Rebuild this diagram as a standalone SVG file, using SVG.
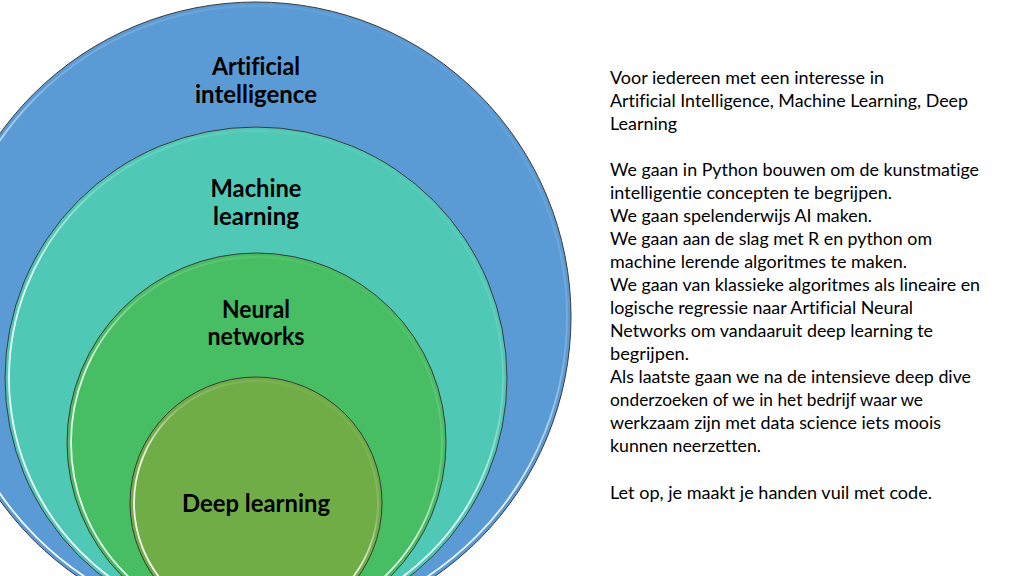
<svg xmlns="http://www.w3.org/2000/svg" width="1024" height="576" viewBox="0 0 1024 576">
<defs>
<linearGradient id="hl" x1="0.8" y1="0" x2="0.25" y2="1">
<stop offset="0" stop-color="#ffffff" stop-opacity="0"/>
<stop offset="0.35" stop-color="#ffffff" stop-opacity="0.2"/>
<stop offset="0.55" stop-color="#ffffff" stop-opacity="0.85"/>
<stop offset="1" stop-color="#ffffff" stop-opacity="0.95"/>
</linearGradient>
<style>
.ring{stroke:#3a3a3a;stroke-width:1}
.hl{fill:none;stroke:url(#hl);stroke-width:1.8}
text{font-variant-ligatures:none;font-feature-settings:"liga" 0,"dlig" 0}
.lbl{font-family:Lato,"Open Sans","Liberation Sans",sans-serif;font-weight:bold;font-size:24px;fill:#000;text-anchor:middle}
.body{font-family:Lato,"Open Sans","Liberation Sans",sans-serif;font-size:17px;fill:#000}
</style>
</defs>
<rect width="1024" height="576" fill="#ffffff"/>
<g id="ai">
<circle class="ring" cx="256" cy="317" r="315" fill="#5B9BD5"/>
<circle class="hl" cx="256" cy="317" r="311"/>
<text class="lbl" x="256" y="75" textLength="88" lengthAdjust="spacingAndGlyphs">Artificial</text>
<text class="lbl" x="256" y="103" textLength="122" lengthAdjust="spacingAndGlyphs">intelligence</text>
</g>
<g id="ml">
<circle class="ring" cx="256" cy="378" r="251" fill="#4FC9B5"/>
<circle class="hl" cx="256" cy="378" r="247"/>
<text class="lbl" x="256" y="197" textLength="91" lengthAdjust="spacingAndGlyphs">Machine</text>
<text class="lbl" x="256" y="225" textLength="86" lengthAdjust="spacingAndGlyphs">learning</text>
</g>
<g id="nn">
<circle class="ring" cx="256.5" cy="442.5" r="189.5" fill="#47BE64"/>
<circle class="hl" cx="256.5" cy="442.5" r="185.5"/>
<text class="lbl" x="256" y="318" textLength="68" lengthAdjust="spacingAndGlyphs">Neural</text>
<text class="lbl" x="256" y="345" textLength="97" lengthAdjust="spacingAndGlyphs">networks</text>
</g>
<g id="dl">
<circle class="ring" cx="256" cy="503" r="126" fill="#70AD47"/>
<circle class="hl" cx="256" cy="503" r="122"/>
<text class="lbl" x="256" y="512" textLength="148" lengthAdjust="spacingAndGlyphs">Deep learning</text>
</g>
<g id="connectors"/>
<g id="description">
<text class="body" x="610" y="84" textLength="274" lengthAdjust="spacingAndGlyphs">Voor iedereen met een interesse in</text>
<text class="body" x="610" y="107" textLength="358" lengthAdjust="spacingAndGlyphs">Artificial Intelligence, Machine Learning, Deep</text>
<text class="body" x="610" y="130" textLength="67" lengthAdjust="spacingAndGlyphs">Learning</text>
<text class="body" x="610" y="176" textLength="369" lengthAdjust="spacingAndGlyphs">We gaan in Python bouwen om de kunstmatige</text>
<text class="body" x="610" y="199" textLength="282" lengthAdjust="spacingAndGlyphs">intelligentie concepten te begrijpen.</text>
<text class="body" x="610" y="222" textLength="262" lengthAdjust="spacingAndGlyphs">We gaan spelenderwijs AI maken.</text>
<text class="body" x="610" y="245" textLength="322" lengthAdjust="spacingAndGlyphs">We gaan aan de slag met R en python om</text>
<text class="body" x="610" y="268" textLength="297" lengthAdjust="spacingAndGlyphs">machine lerende algoritmes te maken.</text>
<text class="body" x="610" y="291" textLength="370" lengthAdjust="spacingAndGlyphs">We gaan van klassieke algoritmes als lineaire en</text>
<text class="body" x="610" y="314" textLength="303" lengthAdjust="spacingAndGlyphs">logische regressie naar Artificial Neural</text>
<text class="body" x="610" y="337" textLength="323" lengthAdjust="spacingAndGlyphs">Networks om vandaaruit deep learning te</text>
<text class="body" x="610" y="360" textLength="79" lengthAdjust="spacingAndGlyphs">begrijpen.</text>
<text class="body" x="610" y="383" textLength="361" lengthAdjust="spacingAndGlyphs">Als laatste gaan we na de intensieve deep dive</text>
<text class="body" x="610" y="406" textLength="313" lengthAdjust="spacingAndGlyphs">onderzoeken of we in het bedrijf waar we</text>
<text class="body" x="610" y="429" textLength="331" lengthAdjust="spacingAndGlyphs">werkzaam zijn met data science iets moois</text>
<text class="body" x="610" y="452" textLength="151" lengthAdjust="spacingAndGlyphs">kunnen neerzetten.</text>
<text class="body" x="610" y="499" textLength="322" lengthAdjust="spacingAndGlyphs">Let op, je maakt je handen vuil met code.</text>
</g>
</svg>
